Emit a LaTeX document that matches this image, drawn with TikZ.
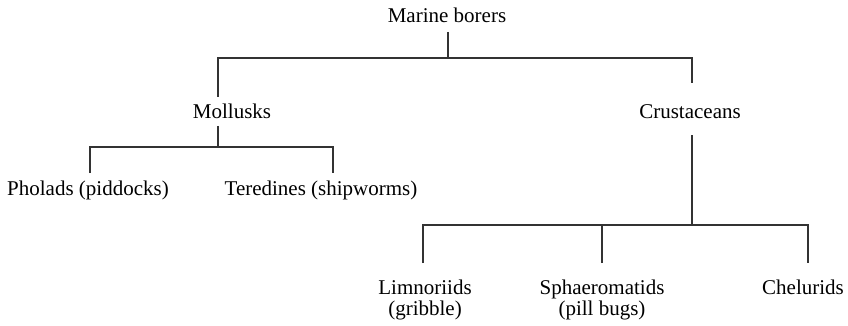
\documentclass[tikz,border=0pt]{standalone}
\usepackage{fontspec}
\setmainfont{Liberation Serif}
\begin{document}
\begin{tikzpicture}[x=1pt,y=-1pt,
  lbl/.style={inner sep=0pt, font=\fontsize{21}{21}\selectfont, anchor=base, align=center},
  conn/.style={draw=black!80, line width=1.3pt, line join=miter}]
\useasboundingbox (0,0) rectangle (848,326);
% labels
\node[lbl] (root) at (447,23) {Marine borers};
\node[lbl] (moll) at (232,118) {Mollusks};
\node[lbl] (crus) at (690,118) {Crustaceans};
\node[lbl] (phol) at (88,195) {Pholads (piddocks)};
\node[lbl] (tere) at (321,195) {Teredines (shipworms)};
\node[lbl] (limn) at (425,315) {Limnoriids\\(gribble)};
\node[lbl] (sph) at (602,315) {Sphaeromatids\\(pill bugs)};
\node[lbl] (chel) at (803,294) {Chelurids};
% connector ends
\coordinate (rootB) at (448,32);
\coordinate (j0) at (448,58);
\coordinate (mollT) at (218,97);
\coordinate (crusT) at (692,83);
\coordinate (mollB) at (218,126);
\coordinate (j1) at (218,147);
\coordinate (pholT) at (90,173);
\coordinate (tereT) at (333,173);
\coordinate (crusB) at (692,135);
\coordinate (j2) at (692,225);
\coordinate (limnT) at (423,263);
\coordinate (sphT) at (602,263);
\coordinate (chelT) at (808,263);
% connectors
\draw[conn] (rootB) -- (j0);
\draw[conn] (mollT) |- (j0) -| (crusT);
\draw[conn] (mollB) -- (j1);
\draw[conn] (pholT) |- (j1) -| (tereT);
\draw[conn] (crusB) -- (j2);
\draw[conn] (limnT) |- (j2) -| (chelT);
\draw[conn] (sphT) -- (sphT |- j2);
\end{tikzpicture}
\end{document}
